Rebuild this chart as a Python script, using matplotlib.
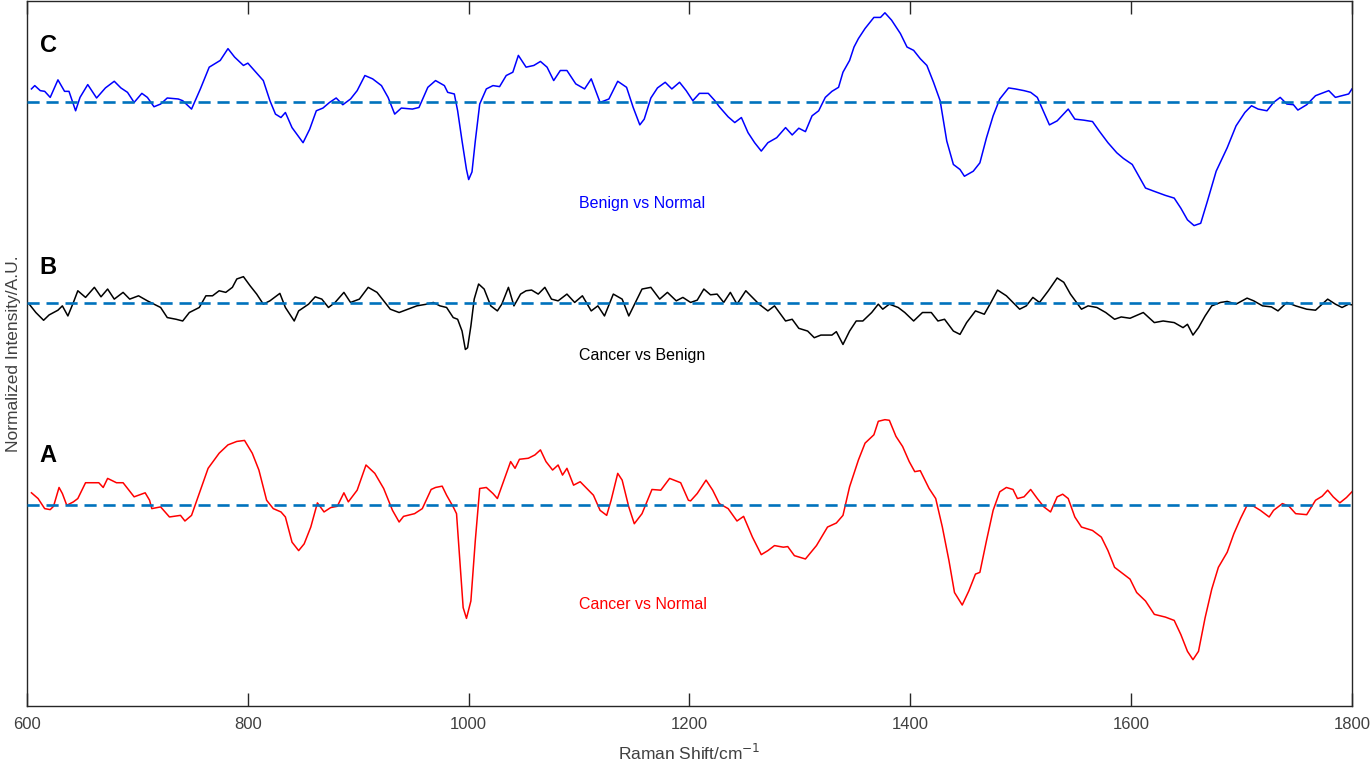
import numpy as np
import matplotlib
matplotlib.use("Agg")
import matplotlib.pyplot as plt

plt.rcParams['font.family'] = ['Liberation Sans', 'DejaVu Sans']

# ---- data (x in cm^-1, y relative to each baseline) ----
a_x = [604, 610, 616, 621, 624, 629, 632, 636, 642, 646, 653, 665, 669, 673, 681, 687, 697, 707, 711, 713,
       721, 729, 739, 743, 749, 756, 764, 774, 782, 790, 797, 804, 810, 817, 823, 830, 834, 840, 846, 851,
       857, 863, 869, 875, 881, 887, 891, 899, 907, 915, 923, 931, 937, 941, 951, 958, 966, 970, 976, 980,
       986, 989, 992, 995, 998, 1002, 1006, 1010, 1016, 1022, 1026, 1032, 1038, 1042, 1046, 1054, 1060, 1065,
       1070, 1076, 1081, 1085, 1089, 1095, 1101, 1107, 1113, 1119, 1125, 1129, 1135, 1139, 1145, 1150, 1157,
       1166, 1174, 1182, 1192, 1199, 1201, 1207, 1215, 1221, 1227, 1235, 1243, 1249, 1257, 1265, 1271, 1277,
       1285, 1289, 1295, 1305, 1315, 1325, 1333, 1339, 1345, 1353, 1359, 1367, 1371, 1377, 1381, 1387, 1393,
       1399, 1404, 1409, 1417, 1423, 1429, 1435, 1440, 1447, 1453, 1459, 1463, 1469, 1475, 1481, 1487, 1493,
       1497, 1503, 1509, 1515, 1521, 1527, 1533, 1538, 1543, 1549, 1555, 1565, 1573, 1579, 1585, 1591, 1599,
       1605, 1613, 1621, 1631, 1639, 1645, 1651, 1656, 1661, 1667, 1673, 1679, 1687, 1693, 1699, 1705, 1711,
       1717, 1725, 1729, 1737, 1743, 1749, 1759, 1767, 1773, 1778, 1783, 1789, 1795, 1800]
a_y = [0.117, 0.06, -0.04, -0.05, -0.017, 0.17, 0.11, -0.007, 0.027, 0.06, 0.217, 0.217, 0.17, 0.26, 0.217,
       0.217, 0.077, 0.117, 0.043, -0.04, -0.023, -0.123, -0.107, -0.163, -0.107, 0.11, 0.36, 0.51, 0.593,
       0.627, 0.637, 0.51, 0.343, 0.043, -0.04, -0.073, -0.123, -0.373, -0.457, -0.39, -0.223, 0.017, -0.073,
       -0.03, -0.017, 0.117, 0.027, 0.143, 0.393, 0.31, 0.16, -0.057, -0.173, -0.117, -0.09, -0.04, 0.15,
       0.17, 0.183, 0.093, -0.023, -0.09, -0.557, -1.023, -1.13, -0.957, -0.357, 0.16, 0.17, 0.11, 0.06,
       0.243, 0.427, 0.36, 0.45, 0.46, 0.493, 0.543, 0.427, 0.343, 0.393, 0.293, 0.36, 0.193, 0.227, 0.16,
       0.093, -0.057, -0.107, 0.043, 0.31, 0.243, -0.023, -0.19, -0.09, 0.15, 0.143, 0.26, 0.217, 0.043,
       0.037, 0.11, 0.243, 0.143, 0.01, -0.04, -0.163, -0.117, -0.323, -0.497, -0.457, -0.407, -0.423,
       -0.417, -0.507, -0.54, -0.407, -0.223, -0.183, -0.107, 0.177, 0.443, 0.61, 0.693, 0.827, 0.843, 0.837,
       0.677, 0.577, 0.427, 0.327, 0.337, 0.16, 0.06, -0.223, -0.557, -0.873, -0.997, -0.857, -0.69, -0.673,
       -0.357, -0.057, 0.127, 0.17, 0.15, 0.06, 0.077, 0.15, 0.06, -0.023, -0.073, 0.077, 0.103, 0.06,
       -0.123, -0.223, -0.257, -0.323, -0.457, -0.623, -0.673, -0.74, -0.873, -0.957, -1.09, -1.117, -1.15,
       -1.29, -1.457, -1.54, -1.457, -1.123, -0.84, -0.623, -0.473, -0.29, -0.14, -0.007, -0.017, -0.057,
       -0.123, -0.057, 0.01, -0.017, -0.09, -0.1, 0.043, 0.083, 0.143, 0.077, 0.017, 0.07, 0.127]

b_x = [602, 608, 615, 620, 628, 632, 637, 642, 646, 653, 661, 667, 673, 679, 687, 693, 701, 709, 715, 721,
       727, 735, 741, 747, 756, 762, 768, 774, 780, 786, 790, 796, 802, 808, 814, 820, 829, 834, 842, 846,
       855, 861, 867, 873, 879, 887, 893, 901, 909, 917, 923, 929, 937, 945, 953, 962, 968, 974, 980, 986,
       990, 994, 997, 999, 1002, 1005, 1009, 1014, 1020, 1026, 1030, 1036, 1041, 1047, 1052, 1057, 1063,
       1069, 1075, 1081, 1089, 1096, 1103, 1111, 1117, 1123, 1131, 1139, 1145, 1157, 1165, 1173, 1180, 1188,
       1194, 1201, 1207, 1213, 1219, 1225, 1231, 1237, 1243, 1251, 1257, 1263, 1271, 1277, 1287, 1293, 1299,
       1307, 1313, 1319, 1329, 1333, 1339, 1345, 1351, 1357, 1365, 1371, 1375, 1381, 1389, 1395, 1403, 1411,
       1419, 1425, 1431, 1439, 1445, 1451, 1459, 1467, 1473, 1479, 1487, 1493, 1499, 1505, 1511, 1517, 1525,
       1533, 1539, 1545, 1555, 1561, 1569, 1577, 1585, 1591, 1599, 1611, 1621, 1629, 1639, 1647, 1651, 1656,
       1661, 1667, 1673, 1681, 1687, 1695, 1705, 1711, 1719, 1727, 1733, 1741, 1749, 1759, 1767, 1773, 1778,
       1785, 1791, 1797, 1800]
b_y = [-0.01, -0.093, -0.17, -0.117, -0.07, -0.027, -0.127, 0.007, 0.123, 0.057, 0.157, 0.063, 0.14, 0.04,
       0.107, 0.04, 0.073, 0.023, -0.01, -0.043, -0.143, -0.16, -0.177, -0.093, -0.043, 0.073, 0.073, 0.123,
       0.107, 0.157, 0.24, 0.263, 0.173, 0.09, -0.01, 0.023, 0.097, -0.043, -0.177, -0.077, -0.01, 0.063,
       0.04, -0.043, 0.007, 0.107, 0.007, 0.04, 0.157, 0.107, 0.023, -0.06, -0.093, -0.06, -0.027, -0.01,
       0.007, -0.027, -0.043, -0.143, -0.16, -0.277, -0.46, -0.443, -0.227, 0.04, 0.19, 0.14, -0.027, -0.077,
       -0.01, 0.157, -0.027, 0.09, 0.123, 0.13, 0.09, 0.157, 0.04, 0.023, 0.09, 0.007, 0.073, -0.077, -0.027,
       -0.127, 0.09, 0.04, -0.127, 0.14, 0.157, 0.04, 0.107, 0.023, 0.057, 0.007, 0.03, 0.14, 0.083, 0.09,
       0.007, 0.107, -0.01, 0.123, 0.057, -0.01, -0.077, -0.027, -0.177, -0.16, -0.25, -0.277, -0.343, -0.317,
       -0.317, -0.283, -0.41, -0.277, -0.177, -0.177, -0.093, -0.01, -0.06, -0.01, -0.043, -0.093, -0.177,
       -0.093, -0.093, -0.177, -0.16, -0.277, -0.31, -0.193, -0.077, -0.11, 0.007, 0.13, 0.073, 0.007, -0.06,
       -0.027, 0.057, 0.007, 0.123, 0.25, 0.207, 0.09, -0.06, -0.027, -0.043, -0.093, -0.16, -0.137, -0.15,
       -0.093, -0.193, -0.177, -0.193, -0.243, -0.21, -0.317, -0.243, -0.127, -0.027, 0.007, 0.017, -0.01,
       0.05, 0.023, -0.027, -0.037, -0.077, 0.007, -0.027, -0.06, -0.07, -0.01, 0.04, -0.01, -0.043, -0.01,
       -0.017]

c_x = [604, 607, 612, 616, 621, 628, 634, 638, 644, 648, 655, 663, 671, 679, 685, 691, 697, 704, 709, 715,
       721, 727, 737, 741, 749, 757, 765, 775, 782, 788, 796, 800, 810, 814, 820, 825, 830, 834, 840, 850,
       856, 862, 868, 874, 880, 886, 893, 899, 906, 913, 921, 927, 933, 939, 949, 955, 963, 970, 978, 981,
       987, 990, 994, 998, 1000, 1003, 1006, 1010, 1016, 1022, 1028, 1034, 1040, 1045, 1052, 1059, 1065,
       1071, 1077, 1083, 1089, 1097, 1105, 1111, 1119, 1127, 1135, 1143, 1149, 1155, 1159, 1165, 1171, 1178,
       1184, 1191, 1197, 1203, 1209, 1217, 1223, 1227, 1235, 1241, 1247, 1253, 1259, 1265, 1271, 1279, 1287,
       1293, 1299, 1305, 1311, 1317, 1323, 1329, 1335, 1339, 1345, 1349, 1353, 1359, 1367, 1373, 1377, 1383,
       1391, 1397, 1403, 1409, 1415, 1421, 1427, 1433, 1439, 1445, 1449, 1457, 1463, 1469, 1475, 1481, 1489,
       1495, 1503, 1509, 1515, 1519, 1526, 1533, 1543, 1549, 1557, 1565, 1571, 1579, 1587, 1593, 1601, 1607,
       1613, 1621, 1631, 1639, 1645, 1651, 1657, 1663, 1669, 1677, 1687, 1695, 1703, 1709, 1715, 1723, 1729,
       1735, 1741, 1747, 1751, 1759, 1767, 1779, 1785, 1791, 1797, 1800]
c_y = [0.127, 0.16, 0.11, 0.103, 0.043, 0.217, 0.103, 0.103, -0.09, 0.043, 0.17, 0.037, 0.137, 0.203, 0.137,
       0.093, -0.007, 0.083, 0.043, -0.05, -0.023, 0.037, 0.027, 0.01, -0.073, 0.127, 0.343, 0.41, 0.527,
       0.443, 0.36, 0.383, 0.26, 0.21, 0.01, -0.123, -0.157, -0.107, -0.257, -0.407, -0.273, -0.09, -0.063,
       -0.007, 0.037, -0.03, 0.027, 0.11, 0.26, 0.227, 0.16, 0.043, -0.123, -0.063, -0.073, -0.057, 0.143,
       0.21, 0.16, 0.093, 0.077, -0.09, -0.39, -0.673, -0.773, -0.697, -0.39, -0.023, 0.127, 0.16, 0.15,
       0.26, 0.293, 0.46, 0.343, 0.36, 0.4, 0.343, 0.21, 0.31, 0.31, 0.177, 0.127, 0.227, -0.007, 0.027,
       0.203, 0.143, -0.057, -0.23, -0.173, 0.037, 0.137, 0.193, 0.127, 0.193, 0.11, 0.01, 0.083, 0.083,
       0.01, -0.05, -0.15, -0.207, -0.157, -0.307, -0.407, -0.49, -0.407, -0.357, -0.257, -0.33, -0.263,
       -0.297, -0.14, -0.09, 0.043, 0.103, 0.143, 0.293, 0.41, 0.543, 0.627, 0.727, 0.837, 0.837, 0.883,
       0.81, 0.677, 0.543, 0.51, 0.427, 0.36, 0.193, 0.01, -0.39, -0.623, -0.673, -0.74, -0.69, -0.607,
       -0.357, -0.14, 0.027, 0.137, 0.127, 0.11, 0.093, 0.043, -0.057, -0.23, -0.19, -0.073, -0.173, -0.183,
       -0.197, -0.29, -0.407, -0.507, -0.563, -0.623, -0.74, -0.857, -0.89, -0.93, -0.957, -1.057, -1.173,
       -1.23, -1.207, -0.99, -0.69, -0.457, -0.24, -0.107, -0.04, -0.073, -0.09, -0.007, 0.043, -0.023,
       -0.03, -0.083, -0.03, 0.06, 0.11, 0.043, 0.06, 0.077, 0.127]

offsets = [0.0, 2.0, 4.0]
panel_letters = ['A', 'B', 'C']
series_names = ['Cancer vs Normal', 'Cancer vs Benign', 'Benign vs Normal']
series_colors = ['#ff0000', '#000000', '#0000ff']

fig = plt.figure(figsize=(13.72, 7.68), dpi=100)
ax = fig.add_axes([0.0197, 0.0807, 0.9657, 0.918])

spectra = [(a_x, a_y), (b_x, b_y), (c_x, c_y)]
for (x, y), off, col in zip(spectra, offsets, series_colors):
    ax.plot(x, np.array(y) + off, color=col, lw=1.1, zorder=2)
    ax.axhline(off, color='#0072bd', ls='--', lw=1.9, dashes=(4.6, 2.6), zorder=3)

label_y = [-0.99, 1.485, 2.99]
letter_y = [0.49, 2.35, 4.56]
for i in range(3):
    ax.text(1100, label_y[i], series_names[i], color=series_colors[i], fontsize=11.5,
            ha='left', va='center')
    ax.text(619, letter_y[i], panel_letters[i], color='black', fontsize=17,
            fontweight='bold', ha='center', va='center')

ax.set_xlim(600, 1800)
ax.set_ylim(-2.0, 5.0)
ax.set_xticks([600, 800, 1000, 1200, 1400, 1600, 1800])
ax.set_yticks([])
ax.tick_params(axis='x', direction='in', length=9.5, width=1.0, top=True,
               colors='#262626', labelcolor='#404040', labelsize=12, pad=8)
for s in ax.spines.values():
    s.set_color('#262626')
    s.set_linewidth(1.0)
ax.set_xlabel('Raman Shift/cm$^{-1}$', fontsize=12.5, color='#404040', labelpad=8)
ax.set_ylabel('Normalized Intensity/A.U.', fontsize=12.5, color='#404040', labelpad=4)

fig.savefig('out.png', dpi=100)
